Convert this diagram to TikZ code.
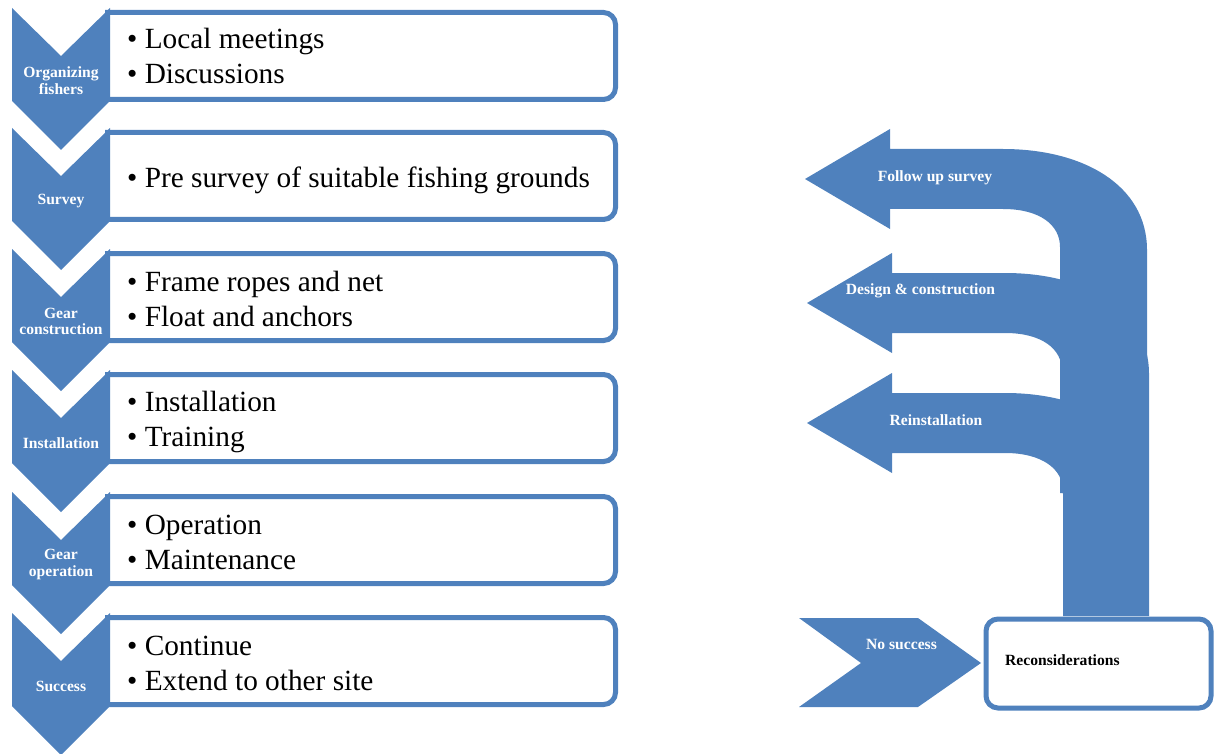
\documentclass[tikz,border=0pt]{standalone}
\usepackage{fontspec}
\setmainfont{Liberation Serif}
\definecolor{sBlue}{HTML}{4F81BD}

\begin{document}
\begin{tikzpicture}[x=1pt, y=-1pt,
  stage/.style={fill=sBlue},
  stagebox/.style={draw=sBlue, line width=5pt, fill=white, rounded corners=12pt},
  stagelabel/.style={text=white, font=\fontsize{15.6}{16.5}\selectfont\bfseries,
                     align=center, inner sep=0pt},
  items/.style={anchor=west, align=left, inner sep=0pt,
                font=\fontsize{29.3}{35}\selectfont},
  loopback/.style={fill=sBlue},
]
  \useasboundingbox (0,0) rectangle (1215,754);

  % boxes behind the chevrons
  \draw[stagebox] (105,12.5) -- (615.5,12.5) -- (615.5,99.5) -- (105,99.5);
  \draw[stagebox] (105,132.5) -- (615.5,132.5) -- (615.5,219.5) -- (105,219.5);
  \draw[stagebox] (105,253.5) -- (615.5,253.5) -- (615.5,340.5) -- (105,340.5);
  \draw[stagebox] (105,374.5) -- (615.5,374.5) -- (615.5,461.5) -- (105,461.5);
  \draw[stagebox] (105,496.5) -- (615.5,496.5) -- (615.5,583.5) -- (105,583.5);
  \draw[stagebox] (105,617.5) -- (615.5,617.5) -- (615.5,704.5) -- (105,704.5);

  % chevrons
  \fill[stage] (12,8) -- (61,56) -- (110,8) -- (110,101) -- (61,150) -- (12,101) -- cycle;
  \fill[stage] (12,128) -- (61,176) -- (110,128) -- (110,221) -- (61,270) -- (12,221) -- cycle;
  \fill[stage] (12,249) -- (61,297) -- (110,249) -- (110,342) -- (61,391) -- (12,342) -- cycle;
  \fill[stage] (12,370) -- (61,418) -- (110,370) -- (110,463) -- (61,512) -- (12,463) -- cycle;
  \fill[stage] (12,492) -- (61,540) -- (110,492) -- (110,585) -- (61,634) -- (12,585) -- cycle;
  \fill[stage] (12,613) -- (61,661) -- (110,613) -- (110,706) -- (61,755) -- (12,706) -- cycle;

  \node[stagelabel] (lbl1) at (61,80.5) {Organizing\\fishers};
  \node[stagelabel] (lbl2) at (61,201.5) {Survey};
  \node[stagelabel] (lbl3) at (61,321.5) {Gear\\construction};
  \node[stagelabel] (lbl4) at (61,443.5) {Installation};
  \node[stagelabel] (lbl5) at (61,564.5) {Gear\\operation};
  \node[stagelabel] (lbl6) at (61,686.5) {Success};

  \node[items] (it1) at (127,55.5) {• Local meetings\\• Discussions};
  \node[items] (it2) at (127,180) {• Pre survey of suitable fishing grounds};
  \node[items] (it3) at (127,299) {• Frame ropes and net\\• Float and anchors};
  \node[items] (it4) at (127,421.5) {• Installation\\• Training};
  \node[items] (it5) at (127,542) {• Operation\\• Maintenance};
  \node[items] (it6) at (127,663) {• Continue\\• Extend to other site};

  % feedback arrows
  \fill[loopback] (805,179) -- (890,129) -- (890,149) -- (1003,149)
    .. controls (1083,149) and (1147,185) .. (1147,250) -- (1147,493) -- (1060,493)
    -- (1060,247) .. controls (1060,225) and (1040,209) .. (1003,209)
    -- (890,209) -- (890,229) -- cycle;
  \fill[loopback] (807,303) -- (892,253) -- (892,273) -- (1005,273)
    .. controls (1085,273) and (1149,309) .. (1149,374) -- (1149,493) -- (1062,493)
    -- (1062,371) .. controls (1062,349) and (1042,333) .. (1005,333)
    -- (892,333) -- (892,353) -- cycle;
  \fill[loopback] (807,423) -- (892,373) -- (892,393) -- (1005,393)
    .. controls (1085,393) and (1149,429) .. (1149,494) -- (1149,616) -- (1063,616)
    -- (1063,491) .. controls (1063,469) and (1042,453) .. (1005,453)
    -- (892,453) -- (892,473) -- cycle;

  \node[stagelabel] (fus) at (935,177.5) {Follow up survey};
  \node[stagelabel] (dc) at (920.5,290.5) {Design \& construction};
  \node[stagelabel] (reinst) at (936,420.5) {Reinstallation};

  \fill[stage] (799,618) -- (918,618) -- (981,663) -- (918,707) -- (799,707) -- (861,663) -- cycle;
  \node[stagelabel] (nosucc) at (901.5,644.5) {No success};

  \node[draw=sBlue, line width=5pt, fill=white, rounded corners=12pt,
        minimum width=225pt, minimum height=89pt] (recon) at (1098.5,663.5) {};
  \node[stagelabel, text=black, anchor=west] (recontext) at (1005,660.5) {Reconsiderations};
\end{tikzpicture}
\end{document}
